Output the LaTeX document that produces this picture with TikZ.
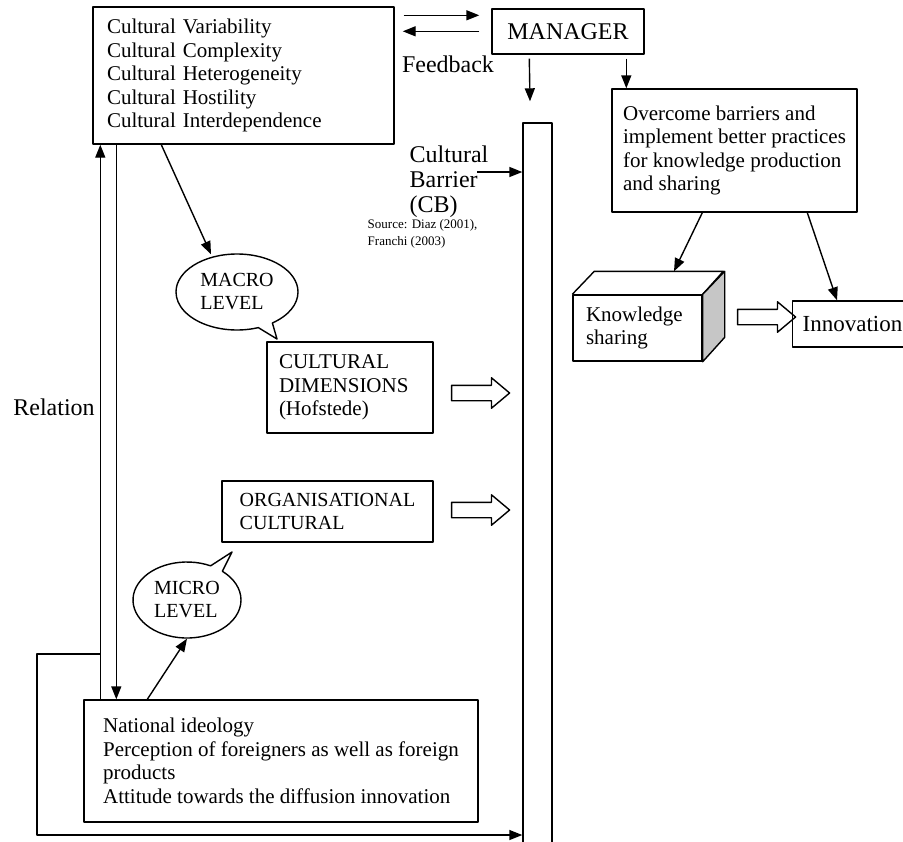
\documentclass[tikz,border=0pt]{standalone}
\usepackage{fontspec}
\setmainfont{Liberation Serif}
\usetikzlibrary{arrows.meta,calc,shapes.arrows,shapes.callouts}

\begin{document}
\begin{tikzpicture}[>={Triangle[length=6.5pt,width=5pt]}, line join=round, x=.5pt, y=-.5pt, line width=.7pt,
	font=\fontsize{10.5}{11.75}\selectfont,
	box/.style={draw, align=left, inner xsep=7pt, inner ysep=0pt},
	big/.style={font=\fontsize{12}{12.5}\selectfont},
	bubble/.style={draw, ellipse callout, align=left, inner sep=0pt, font=\fontsize{10}{11.5}\selectfont},
	block/.style={draw, single arrow, minimum height=29pt, single arrow head extend=3.75pt, single arrow tip angle=80, inner ysep=3.5pt, inner xsep=0pt, text height=0pt, text depth=0pt}]
	\useasboundingbox (0,0) rectangle (903,841);
	\clip (0,0) rectangle (903,841);
	% boxes
	\node[box, text width=136.5pt, minimum height=68.5pt] (cv) at (243.5,75.5) {Cultural Variability\\Cultural Complexity\\Cultural Heterogeneity\\Cultural Hostility\\Cultural Interdependence};
	\node[draw, big, minimum width=76pt, minimum height=22.5pt] (mgr) at (568,31.5) {MANAGER};
	\node[box, inner xsep=3pt, minimum width=122.5pt, minimum height=61.5pt] (ovc) at (734.5,150.5) {Overcome barriers and\\implement better practices\\for knowledge production\\and sharing};
	\node[draw, minimum width=14.5pt, minimum height=363.5pt, inner sep=0pt] (bar) at (537.5,486.5) {};
	\node[box, inner xsep=6pt, text width=71pt, minimum height=45.5pt] (cd) at (350,387.5) {CULTURAL\\DIMENSIONS\\(Hofstede)};
	\node[box, font=\fontsize{10}{11.5}\selectfont, minimum width=105.5pt, minimum height=30.5pt] (org) at (327.5,511.5) {ORGANISATIONAL\\CULTURAL};
	\node[box, inner xsep=3pt, minimum width=197pt, minimum height=61pt] (nat) at (281,761) {National ideology\\Perception of foreigners as well as foreign\\products\\Attitude towards the diffusion innovation};
	\node[box, inner xsep=6.5pt, text width=51.5pt, minimum height=33pt] (ks) at (637.5,328) {Knowledge\\sharing};
	\draw (ks.north west) -- ++(22,-23) -- ++(129,0) -- (ks.north east);
	\draw[fill=gray!45] (ks.north east) -- ++(22,-23) -- ++(0,66) -- (ks.south east) -- cycle;
	\node[draw, font=\fontsize{11.5}{12.5}\selectfont, anchor=west, inner xsep=5pt, minimum height=23pt] (inn) at (792,324) {Innovation};
	% bubbles
	\node[bubble, minimum width=61pt, minimum height=38pt, callout absolute pointer={(277,339)}] (macro) at (237,292) {MACRO\\LEVEL};
	\node[bubble, minimum width=54pt, minimum height=38pt, callout absolute pointer={(232,552)}] (micro) at (187,600) {MICRO\\LEVEL};
	% block arrows
	\node[block] (cdarr) at (476,393) {};
	\node[block] (orgarr) at (476,510) {};
	\node[block] (ksarr) at (762,317) {};
	% labels
	\node[big] (fb) at (448,64) {Feedback};
	\node[big] (rel) at (54,407) {Relation};
	\node[big, align=left, inner sep=0pt, anchor=north west] (cb) at (409,145) {Cultural\\Barrier\\(CB)};
	\node[font=\fontsize{6.5}{8.5}\selectfont, align=left, inner sep=0pt, anchor=north west] (src) at (367,219) {Source: Diaz (2001),\\Franchi (2003)};
	\coordinate (cbend) at (477,172);
	% arrows
	\draw[->] ($(cv.north east)+(9,9)$) -- ($(mgr.north west)+(-12,7)$);
	\draw[->] ($(mgr.north west)+(-12,23)$) -- ($(cv.north east)+(8,25)$);
	\draw[->] ([shift={(38,4)}]mgr.south west) -- ([shift={(-7.5,-21)}]bar.north);
	\draw[->] ([shift={(135,4)}]mgr.south west) -- ([shift={(15,0)}]ovc.north west);
	\draw[->] ([shift={(91,0)}]ovc.south west) -- ([shift={(36.5,-23)}]ks.north);
	\draw[->] ([shift={(196,0)}]ovc.south west) -- ([shift={(45,0)}]inn.north west);
	\draw[->] (cbend) -- (bar.west |- cbend);
	\draw[->] ([shift={(69,0)}]cv.south west) -- ([shift={(-26,1)}]macro.north);
	\draw[->] ([xshift=32pt]nat.north west) -- (micro.south);
	\coordinate (up) at ([xshift=8.5pt]nat.north west);
	\coordinate (dn) at ([xshift=16.5pt]nat.north west);
	\draw[->] (up) -- (up |- cv.south);
	\draw[->] (dn |- cv.south) -- (dn);
	\draw[->] (up |- 0,654) -| (37,835) -- (bar.west |- 0,835);
\end{tikzpicture}
\end{document}
